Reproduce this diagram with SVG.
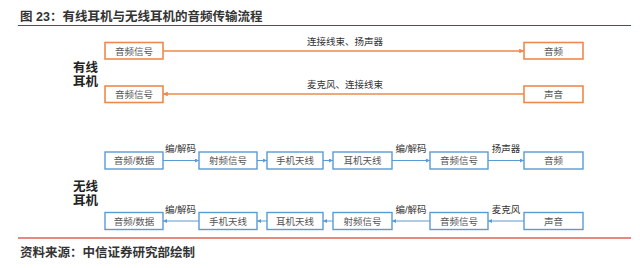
<svg xmlns="http://www.w3.org/2000/svg" width="640" height="268" viewBox="0 0 640 268">
<defs>
<style>
text{font-family:"Liberation Sans","Noto Sans CJK SC",sans-serif;}
.title{font-size:12.5px;font-weight:bold;fill:#333;}
.src{font-size:12.5px;font-weight:bold;fill:#333;}
.grp{font-size:12.5px;font-weight:bold;fill:#222;}
.ob{fill:#fff;stroke:#ED8A4B;stroke-width:1.6;}
.bb{fill:#fff;stroke:#5B9BD5;stroke-width:1.4;}
.bt{font-size:9.5px;fill:#555;text-anchor:middle;}
.lb{font-size:9.5px;fill:#333;text-anchor:middle;}
.ol{stroke:#ED8A4B;stroke-width:1.6;fill:none;}
.bl{stroke:#5B9BD5;stroke-width:1;fill:none;}
</style>
<marker id="ao" viewBox="0 0 6 6" refX="6" refY="3" markerWidth="3" markerHeight="3" orient="auto" markerUnits="strokeWidth"><path d="M0,0L6,3L0,6z" fill="#ED8A4B"/></marker>
<marker id="ab" viewBox="0 0 6 6" refX="6" refY="3" markerWidth="4" markerHeight="4" orient="auto" markerUnits="strokeWidth"><path d="M0,0L6,3L0,6z" fill="#5B9BD5"/></marker>
</defs>
<rect width="640" height="268" fill="#fff"/>
<text class="title" x="20" y="21">图 23：有线耳机与无线耳机的音频传输流程</text>
<line x1="18" y1="25.5" x2="631" y2="25.5" stroke="#8E2C5A" stroke-width="1"/>
<text class="grp" x="73" y="72">有线</text>
<text class="grp" x="73" y="86">耳机</text>
<text class="grp" x="73" y="191">无线</text>
<text class="grp" x="73" y="205">耳机</text>
<g id="connectors">
<line class="ol" x1="163" y1="51" x2="524" y2="51" marker-end="url(#ao)"/>
<line class="ol" x1="524" y1="94" x2="163" y2="94" marker-end="url(#ao)"/>
<line class="bl" x1="163" y1="160.5" x2="199" y2="160.5" marker-end="url(#ab)"/>
<line class="bl" x1="257" y1="160.5" x2="267" y2="160.5" marker-end="url(#ab)"/>
<line class="bl" x1="323" y1="160.5" x2="333" y2="160.5" marker-end="url(#ab)"/>
<line class="bl" x1="392" y1="160.5" x2="430" y2="160.5" marker-end="url(#ab)"/>
<line class="bl" x1="488" y1="160.5" x2="524" y2="160.5" marker-end="url(#ab)"/>
<line class="bl" x1="199" y1="221" x2="163" y2="221" marker-end="url(#ab)"/>
<line class="bl" x1="267" y1="221" x2="257" y2="221" marker-end="url(#ab)"/>
<line class="bl" x1="333" y1="221" x2="323" y2="221" marker-end="url(#ab)"/>
<line class="bl" x1="430" y1="221" x2="392" y2="221" marker-end="url(#ab)"/>
<line class="bl" x1="524" y1="221" x2="488" y2="221" marker-end="url(#ab)"/>
<text class="lb" x="345" y="44.5">连接线束、扬声器</text>
<text class="lb" x="345" y="87.5">麦克风、连接线束</text>
<text class="lb" x="180.5" y="151.5">编/解码</text>
<text class="lb" x="411" y="151.5">编/解码</text>
<text class="lb" x="506" y="151.5">扬声器</text>
<text class="lb" x="180.5" y="212.5">编/解码</text>
<text class="lb" x="411" y="212.5">编/解码</text>
<text class="lb" x="506" y="212.5">麦克风</text>
</g>
<g id="w1"><rect class="ob" x="105" y="42.5" width="58" height="16.5"/><text class="bt" x="134" y="54.5">音频信号</text></g>
<g id="w2"><rect class="ob" x="524" y="42.5" width="59" height="16.5"/><text class="bt" x="553.5" y="54.5">音频</text></g>
<g id="w3"><rect class="ob" x="105" y="86" width="58" height="16.5"/><text class="bt" x="134" y="98">音频信号</text></g>
<g id="w4"><rect class="ob" x="524" y="86" width="59" height="16.5"/><text class="bt" x="553.5" y="98">声音</text></g>
<g id="a1"><rect class="bb" x="105" y="152" width="58" height="17"/><text class="bt" x="134" y="164">音频/数据</text></g>
<g id="a2"><rect class="bb" x="199" y="152" width="58" height="17"/><text class="bt" x="228" y="164">射频信号</text></g>
<g id="a3"><rect class="bb" x="267" y="152" width="56" height="17"/><text class="bt" x="295" y="164">手机天线</text></g>
<g id="a4"><rect class="bb" x="333" y="152" width="59" height="17"/><text class="bt" x="362.5" y="164">耳机天线</text></g>
<g id="a5"><rect class="bb" x="430" y="152" width="58" height="17"/><text class="bt" x="459" y="164">音频信号</text></g>
<g id="a6"><rect class="bb" x="524" y="152" width="59" height="17"/><text class="bt" x="553.5" y="164">音频</text></g>
<g id="b1"><rect class="bb" x="105" y="212.5" width="58" height="17"/><text class="bt" x="134" y="224.5">音频/数据</text></g>
<g id="b2"><rect class="bb" x="199" y="212.5" width="58" height="17"/><text class="bt" x="228" y="224.5">手机天线</text></g>
<g id="b3"><rect class="bb" x="267" y="212.5" width="56" height="17"/><text class="bt" x="295" y="224.5">耳机天线</text></g>
<g id="b4"><rect class="bb" x="333" y="212.5" width="59" height="17"/><text class="bt" x="362.5" y="224.5">射频信号</text></g>
<g id="b5"><rect class="bb" x="430" y="212.5" width="58" height="17"/><text class="bt" x="459" y="224.5">音频信号</text></g>
<g id="b6"><rect class="bb" x="524" y="212.5" width="59" height="17"/><text class="bt" x="553.5" y="224.5">声音</text></g>
<line x1="18" y1="238" x2="631" y2="238" stroke="#E0605A" stroke-width="1.5"/>
<text class="src" x="20" y="256.5">资料来源：中信证券研究部绘制</text>
</svg>
